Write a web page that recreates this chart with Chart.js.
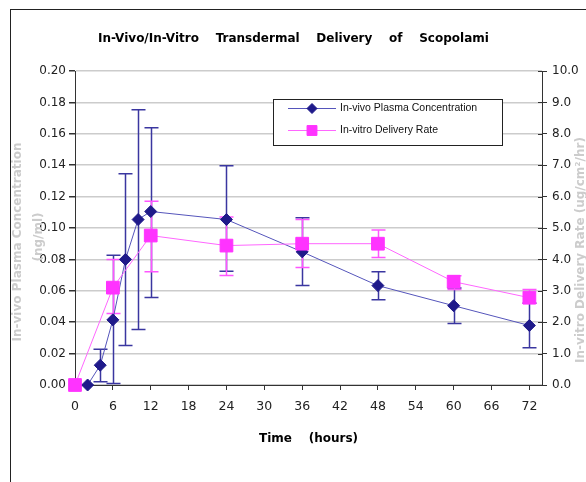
<!DOCTYPE html>
<html>
<head>
<meta charset="utf-8">
<script src="https://cdn.jsdelivr.net/npm/chart.js@4.4.1/dist/chart.umd.min.js"></script>
<style>
  body { margin: 0; background: #fff; }
  #wrap { position: relative; width: 586px; height: 482px; overflow: hidden; }
  #frame { position: absolute; left: 10px; top: 9px; width: 600px; height: 500px; border-left: 1px solid #222; border-top: 1px solid #222; }
  canvas { position: absolute; left: 0; top: 0; }
</style>
</head>
<body>
<div id="wrap"><div id="frame"></div><canvas id="myChart" width="586" height="482"></canvas></div>
<script>
// in-vivo plasma concentration (ng/ml), left axis
const hours = [0, 2, 4, 6, 8, 10, 12, 24, 36, 48, 60, 72];
const plasma = [0, 0, 0.0126, 0.0415, 0.080, 0.1054, 0.1105, 0.1054, 0.0848, 0.0633, 0.0505, 0.0379];
const plasmaLow = [null, null, 0.002, 0.001, 0.0251, 0.0353, 0.0558, 0.0724, 0.0633, 0.0543, 0.0392, 0.0238];
const plasmaHigh = [null, null, 0.0228, 0.0826, 0.1346, 0.1753, 0.1638, 0.1397, 0.1065, 0.0722, 0.0618, 0.052];

// in-vitro delivery rate, right axis
const rateHours = [0, 6, 12, 24, 36, 48, 60, 72];
const rate = [0, 3.1, 4.76, 4.44, 4.5, 4.5, 3.29, 2.78];
const rateLow = [null, 2.28, 3.61, 3.49, 3.74, 4.06, 3.04, 2.6];
const rateHigh = [null, 4.0, 5.85, 5.35, 5.27, 4.94, 3.48, 3.04];

const xTicks = [0, 6, 12, 18, 24, 30, 36, 42, 48, 54, 60, 66, 72];
const leftTicks = [0, 0.02, 0.04, 0.06, 0.08, 0.10, 0.12, 0.14, 0.16, 0.18, 0.20];
const rightTicks = [0, 1, 2, 3, 4, 5, 6, 7, 8, 9, 10];

const titleText = 'In-Vivo/In-Vitro    Transdermal    Delivery    of    Scopolami';
const xTitle = 'Time    (hours)';
const leftTitle = ['In-vivo Plasma Concentration', '(ng/ml)'];
const rightTitle = 'In-vitro Delivery Rate (ug/cm²/hr)';

const errorBars = {
    id: 'errorBars',
    beforeDatasetsDraw(chart) {
        const ctx = chart.ctx
        const xs = chart.scales.x
        ctx.save()
        chart.data.datasets.forEach(ds => {
            const ys = chart.scales[ds.yAxisID]
            ctx.strokeStyle = ds.errColor
            ctx.lineWidth = 1.5
            ds.data.forEach((p, j) => {
                if (ds.errLow[j] == null) return
                const x = Math.round(xs.getPixelForValue(p.x)) + 0.5
                const y1 = ys.getPixelForValue(ds.errLow[j])
                const y2 = ys.getPixelForValue(ds.errHigh[j])
                ctx.beginPath()
                ctx.moveTo(x, y1); ctx.lineTo(x, y2)
                ctx.moveTo(x - 7, y1); ctx.lineTo(x + 7, y1)
                ctx.moveTo(x - 7, y2); ctx.lineTo(x + 7, y2)
                ctx.stroke()
            })
        })
        ctx.restore()
    }
}

const extras = {
    id: 'extras',
    afterDraw(chart) {
        const ctx = chart.ctx
        ctx.save()
        // titles
        ctx.fillStyle = '#000'
        ctx.textBaseline = 'middle'
        ctx.textAlign = 'left'
        ctx.font = 'bold 12px "DejaVu Sans"'
        ctx.fillText(titleText, 98, 39)
        ctx.fillText(xTitle, 259, 439)
        ctx.fillStyle = '#cccccc'
        ctx.textAlign = 'center'
        ctx.translate(18, 242)
        ctx.rotate(-Math.PI / 2)
        ctx.fillText(leftTitle[0], 0, 0)
        ctx.fillText(leftTitle[1], 5, 21)
        ctx.setTransform(1, 0, 0, 1, 0, 0)
        ctx.translate(581, 250)
        ctx.rotate(-Math.PI / 2)
        ctx.fillText(rightTitle, 0, 0)
        ctx.setTransform(1, 0, 0, 1, 0, 0)

        // inner half of right axis ticks
        const r = chart.scales.y2
        ctx.strokeStyle = '#333'
        ctx.lineWidth = 1
        ctx.beginPath()
        r.ticks.forEach(t => {
            const y = Math.round(r.getPixelForValue(t.value)) + 0.5
            ctx.moveTo(r.left - 4, y); ctx.lineTo(r.left, y)
        })
        ctx.stroke()

        // legend box
        ctx.fillStyle = '#fff'
        ctx.fillRect(273.5, 99.5, 229, 46)
        ctx.strokeStyle = '#222'
        ctx.lineWidth = 1
        ctx.strokeRect(273.5, 99.5, 229, 46)
        const rows = [chart.data.datasets[0], chart.data.datasets[1]]
        ctx.textAlign = 'left'
        ctx.font = '10.5px "Liberation Sans"'
        rows.forEach((ds, i) => {
            const y = 108.5 + i * 22
            ctx.strokeStyle = ds.borderColor
            ctx.lineWidth = 1
            ctx.beginPath()
            ctx.moveTo(288, y); ctx.lineTo(336, y)
            ctx.stroke()
            ctx.fillStyle = ds.pointBackgroundColor
            ctx.strokeStyle = ds.pointBorderColor
            Chart.helpers.drawPoint(ctx, { pointStyle: ds.pointStyle, radius: ds.legendRadius, rotation: 0, borderWidth: 1 }, 312, y)
            ctx.fillStyle = '#111'
            ctx.fillText(ds.label, 340, y)
        })
        ctx.restore()
    }
}

const ctx = document.getElementById('myChart').getContext('2d');
let myChart = new Chart(ctx, {
    type: 'line',
    data: {
        datasets: [{
            label: 'In-vivo Plasma Concentration',
            data: hours.map((h, i) => ({ x: h, y: plasma[i] })),
            yAxisID: 'y',
            order: 1,
            clip: false,
            borderColor: '#5555bb',
            borderWidth: 1,
            pointStyle: 'rectRot',
            pointRadius: 6,
            legendRadius: 5,
            pointBackgroundColor: '#1f1a8a',
            pointBorderColor: '#1f1a8a',
            pointBorderWidth: 1,
            errLow: plasmaLow,
            errHigh: plasmaHigh,
            errColor: '#3a36a0'
        }, {
            label: 'In-vitro Delivery Rate',
            data: rateHours.map((h, i) => ({ x: h, y: rate[i] })),
            yAxisID: 'y2',
            order: 0,
            clip: false,
            borderColor: '#ff66ff',
            borderWidth: 1,
            pointStyle: 'rect',
            pointRadius: 9,
            legendRadius: 7,
            pointBackgroundColor: '#ff33ff',
            pointBorderColor: '#ff33ff',
            pointBorderWidth: 1,
            errLow: rateLow,
            errHigh: rateHigh,
            errColor: '#ff55ff'
        }]
    },
    options: {
        responsive: false,
        animation: false,
        layout: { padding: { top: 71, left: 0, right: 0, bottom: 0 } },
        plugins: { legend: { display: false }, tooltip: { enabled: false } },
        scales: {
            x: {
                type: 'linear',
                min: 0,
                max: 74,
                afterBuildTicks: s => { s.ticks = xTicks.map(v => ({ value: v })) },
                afterFit: s => { s.height = 97 },
                grid: { drawOnChartArea: false, tickLength: 5, color: '#333' },
                border: { color: '#333' },
                ticks: { padding: 9, color: '#222', maxRotation: 0, font: { family: 'DejaVu Sans', size: 12.5 } }
            },
            y: {
                position: 'left',
                min: 0,
                max: 0.2,
                afterBuildTicks: s => { s.ticks = leftTicks.map(v => ({ value: v })) },
                afterFit: s => { s.width = 75 },
                grid: { color: '#cccccc', lineWidth: 1.5, tickColor: '#333', tickLength: 6 },
                border: { color: '#333' },
                ticks: { padding: 3, color: '#222', callback: v => v.toFixed(2), font: { family: 'DejaVu Sans', size: 12 } }
            },
            y2: {
                position: 'right',
                min: 0,
                max: 10,
                afterBuildTicks: s => { s.ticks = rightTicks.map(v => ({ value: v })) },
                afterFit: s => { s.width = 44 },
                grid: { drawOnChartArea: false, tickLength: 5, color: '#333' },
                border: { color: '#333' },
                ticks: { padding: 5, color: '#222', callback: v => v.toFixed(1), font: { family: 'DejaVu Sans', size: 12 } }
            }
        }
    },
    plugins: [errorBars, extras]
});
</script>
</body>
</html>
